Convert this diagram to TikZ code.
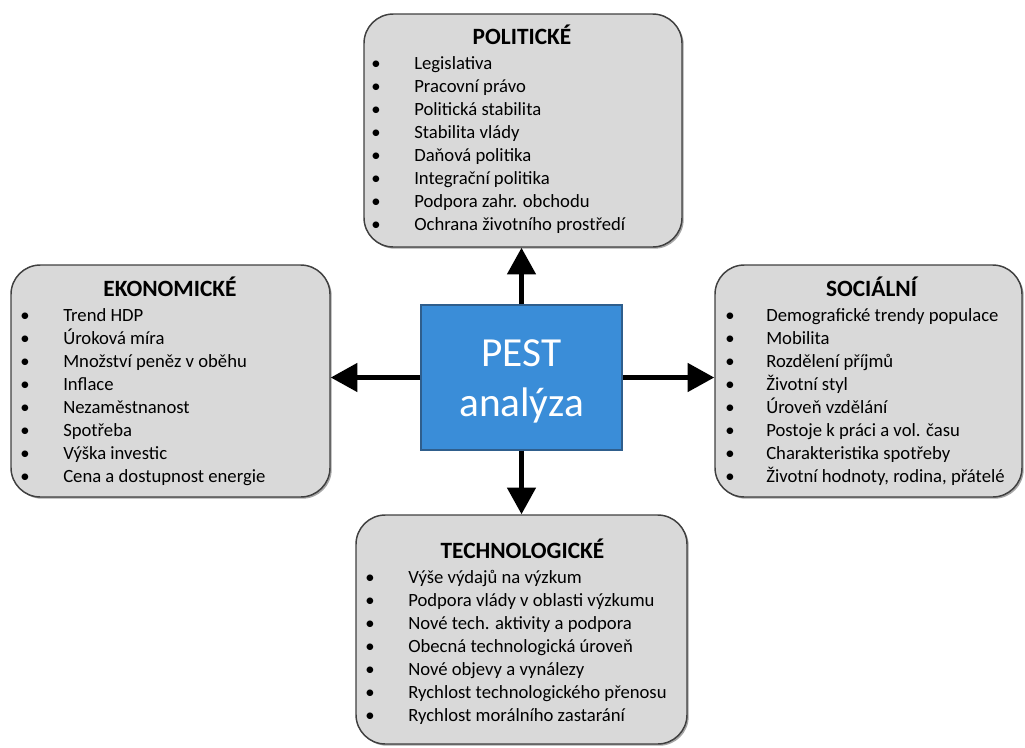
\documentclass[tikz,border=0pt]{standalone}
\usepackage{fontspec}
\setmainfont{Carlito}
\usetikzlibrary{arrows.meta,shadows,calc}
\definecolor{panelfill}{HTML}{D9D9D9}
\definecolor{paneldraw}{HTML}{404040}
\definecolor{pestfill}{HTML}{3A8DD8}
\definecolor{pestdraw}{HTML}{2F5E8C}
\newcommand\pxu{0.75pt}
\tikzset{
  panel/.style={draw=paneldraw, line width=1.1pt, fill=panelfill,
    rounded corners=22pt, inner sep=0pt,
    drop shadow={shadow xshift=1.3pt, shadow yshift=-1.3pt, opacity=0.35, fill=black}},
  pestbox/.style={draw=pestdraw, line width=1pt, fill=pestfill, inner sep=0pt},
  pesttext/.style={inner sep=0pt, text=white, align=center,
    font=\fontsize{31}{37.5}\selectfont},
  paneltitle/.style={anchor=base, inner sep=0pt, font=\fontsize{17.5}{20}\selectfont\bfseries},
  bul/.style={anchor=base, inner sep=0pt, font=\fontsize{14}{17}\selectfont},
  itm/.style={anchor=base west, inner sep=0pt, font=\fontsize{14}{17}\selectfont},
  link/.style={line width=3.6pt, -{Triangle[length=20pt,width=21pt]}},
}
% one bulleted list: name, bullet x, text x, first baseline, items
\newcommand\panelitems[5]{%
  \foreach \t [count=\i] in {#5} {
    \node[bul] (#1-b\i) at (#2, {#4+23*(\i-1)}) {\textbullet};
    \node[itm] (#1-i\i) at (#3, {#4+23*(\i-1)}) {\t};
  }}
\begin{document}
\begin{tikzpicture}[x=0.75pt, y=-0.75pt]
\useasboundingbox (0,0) rectangle (1025,747);

% four factor panels
\node[panel, minimum width=318*\pxu, minimum height=233*\pxu] (pol) at (523,130.5) {};
\node[panel, minimum width=319*\pxu, minimum height=232*\pxu] (eko) at (170.5,381) {};
\node[panel, minimum width=307*\pxu, minimum height=232*\pxu] (soc) at (868.5,381) {};
\node[panel, minimum width=331*\pxu, minimum height=229*\pxu] (tech) at (521.5,629.5) {};

% central box and its two-line caption
\node[pestbox, minimum width=201*\pxu, minimum height=145*\pxu] (pest) at (521.5,377.5) {};
\node[pesttext] (pest-txt) at ($(pest.center)+(0,4)$) {PEST\\analýza};

% connectors
\draw[link] (pest.north) -- (pest.north |- pol.south);
\draw[link] (pest.south) -- (pest.south |- tech.north);
\draw[link] (pest.west) -- (pest.west -| eko.east);
\draw[link] (pest.east) -- (pest.east -| soc.west);

% panel contents
\node[paneltitle] (pol-t) at (522,44) {POLITICKÉ};
\panelitems{pol}{376}{414}{69}{Legislativa, Pracovní právo, Politická stabilita, Stabilita vlády, Daňová politika, Integrační politika, Podpora zahr. obchodu, Ochrana životního prostředí}

\node[paneltitle] (eko-t) at (170,296) {EKONOMICKÉ};
\panelitems{eko}{25}{63}{321}{Trend HDP, Úroková míra, Množství peněz v oběhu, Inflace, Nezaměstnanost, Spotřeba, Výška investic, Cena a dostupnost energie}

\node[paneltitle] (soc-t) at (871.5,296) {SOCIÁLNÍ};
\panelitems{soc}{730}{766}{321}{Demografické trendy populace, Mobilita, Rozdělení příjmů, Životní styl, Úroveň vzdělání, Postoje k práci a vol. času, Charakteristika spotřeby, {Životní hodnoty, rodina, přátelé}}

\node[paneltitle] (tech-t) at (522.5,558) {TECHNOLOGICKÉ};
\panelitems{tech}{370}{408}{583}{Výše výdajů na výzkum, Podpora vlády v oblasti výzkumu, Nové tech. aktivity a podpora, Obecná technologická úroveň, Nové objevy a vynálezy, Rychlost technologického přenosu, Rychlost morálního zastarání}
\end{tikzpicture}
\end{document}
